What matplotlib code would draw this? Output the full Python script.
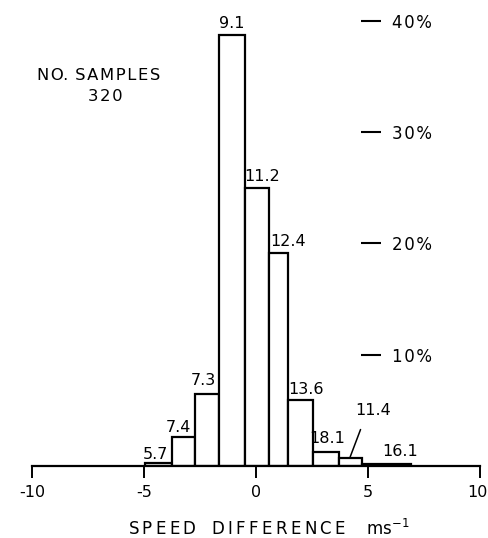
import matplotlib
matplotlib.use("Agg")
import matplotlib.pyplot as plt
import matplotlib.transforms as mtransforms
import numpy as np

# ---- data ----
bin_edges = [-4.96, -3.76, -2.75, -1.68, -0.51, 0.58, 1.43, 2.56, 3.71, 4.75, 6.92]
percent = [0.3, 2.6, 6.5, 38.7, 25.0, 19.1, 5.9, 1.3, 0.7, 0.2]
bar_labels = ["5.7", "7.4", "7.3", "9.1", "11.2", "12.4", "13.6", "18.1", "11.4", "16.1"]
x_ticks = [-10, -5, 0, 5, 10]
x_tick_labels = ["-10", "-5", "0", "5", "10"]
y_ticks = [10, 20, 30, 40]
y_tick_labels = ["10%", "20%", "30%", "40%"]
n_samples = 320

# ---- layout (pixel offsets of labels from bar-top centres) ----
label_dx = [-3, -4.7, -3.6, 0.3, 5, 9.8, 5, 0.7, 0, 13.3]
label_dy = [8.3, 9.7, 13.3, 12, 11.3, 11.7, 11, 12.7, 0, 12.5]

HAIR = "\u200a"
THIN = "\u2009"


def spaced(s, sep=HAIR):
    return sep.join(s)


plt.rcParams['font.family'] = ['DejaVu Sans']
fig = plt.figure(figsize=(4.89, 5.38), dpi=100)
ax = fig.add_axes([32.3 / 489, 72 / 538, 447.7 / 489, 465.2 / 538])
ax.set_xlim(-10, 10)
ax.set_ylim(0, 41.8)

lefts = np.array(bin_edges[:-1])
widths = np.diff(bin_edges)
ax.bar(lefts, percent, width=widths, align='edge', facecolor='white',
       edgecolor='black', linewidth=1.6, zorder=3)

for i, (l, w, h, lab) in enumerate(zip(lefts, widths, percent, bar_labels)):
    if lab == "11.4":
        ax.annotate(lab, xy=(l + 0.45 * w, h), xytext=(23.7, 47.4),
                    textcoords='offset pixels', ha='center', va='center',
                    fontsize=11.5,
                    arrowprops=dict(arrowstyle='-', color='black', lw=1.1,
                                    relpos=(0.26, 0), shrinkA=6.5, shrinkB=1.0))
    else:
        ax.annotate(lab, xy=(l + w / 2, h), xytext=(label_dx[i], label_dy[i]),
                    textcoords='offset pixels', ha='center', va='center',
                    fontsize=11.5)

# spines
for s in ['top', 'left']:
    ax.spines[s].set_visible(False)
ax.spines['bottom'].set_linewidth(1.6)
ax.spines['bottom'].set_zorder(4)
ax.spines['right'].set_position(('data', 4.67))
ax.spines['right'].set_visible(False)

ax.tick_params(axis='x', direction='out', length=8.6, width=1.4, pad=5,
               labelsize=11.5)
ax.set_xticks(x_ticks)
ax.set_xticklabels(x_tick_labels)

ax.yaxis.set_ticks_position('right')
ax.tick_params(axis='y', direction='out', length=14.4, width=1.5, pad=8.5,
               labelsize=12, left=False, right=True, labelleft=False,
               labelright=True)
ax.set_yticks(y_ticks)
ax.set_yticklabels([spaced(t) for t in y_tick_labels])

fig.canvas.draw()
last = ax.xaxis.get_major_ticks()[-1].label1
last.set_transform(last.get_transform() +
                   mtransforms.ScaledTranslation(-2.5 / 100, 0, fig.dpi_scale_trans))

# annotation text
ax.text(99 / 447.7 - 32.3 / 447.7, 1 - (75 - 0.8) / 465.2,
        "N" + HAIR + "O." + HAIR + " " + spaced("SAMPLES"),
        transform=ax.transAxes, ha='center', va='center', fontsize=11.8)
ax.text(105 / 447.7 - 32.3 / 447.7, 1 - (96.7 - 0.8) / 465.2,
        spaced(str(n_samples)),
        transform=ax.transAxes, ha='center', va='center', fontsize=11.8)

label = spaced("SPEED", THIN) + "   " + spaced("DIFFERENCE", THIN) + "    " + r"ms$^{-1}$"
fig.text(269 / 489, 1 - 528.5 / 538, label, ha='center', va='center', fontsize=12)

fig.savefig("out.png", dpi=100, facecolor='white')
